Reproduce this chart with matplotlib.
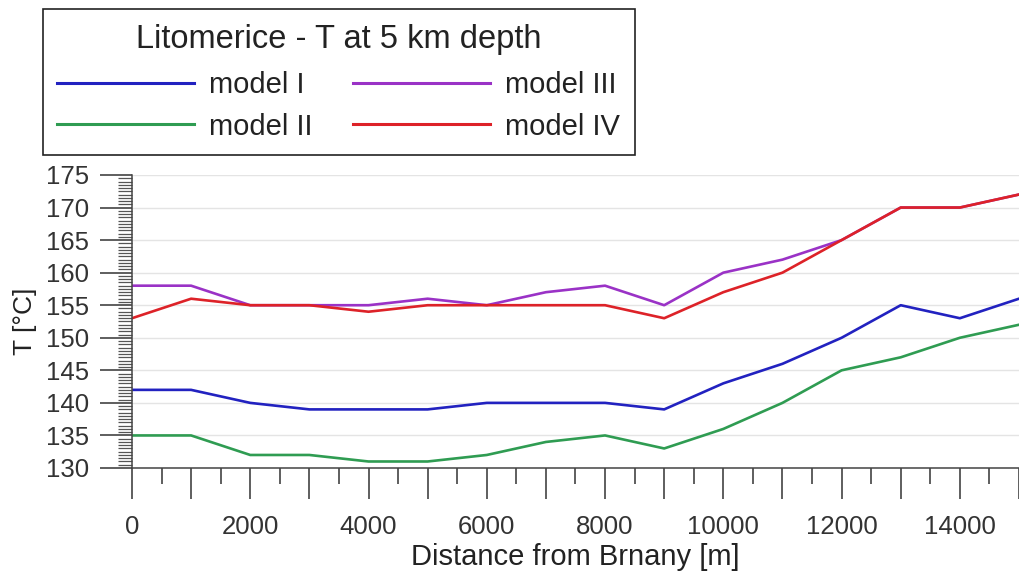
import matplotlib.pyplot as plt
from matplotlib.ticker import MultipleLocator

plt.rcParams.update({
    "font.family": ["Liberation Sans", "DejaVu Sans"],
    "text.color": "#222222",
    "axes.labelcolor": "#222222",
    "xtick.color": "#333333",
    "ytick.color": "#333333",
})

distance_m = [0, 1000, 2000, 3000, 4000, 5000, 6000, 7000, 8000,
              9000, 10000, 11000, 12000, 13000, 14000, 15000]
model_i = [142, 142, 140, 139, 139, 139, 140, 140, 140, 139, 143, 146, 150, 155, 153, 156]
model_ii = [135, 135, 132, 132, 131, 131, 132, 134, 135, 133, 136, 140, 145, 147, 150, 152]
model_iii = [158, 158, 155, 155, 155, 156, 155, 157, 158, 155, 160, 162, 165, 170, 170, 172]
model_iv = [153, 156, 155, 155, 154, 155, 155, 155, 155, 153, 157, 160, 165, 170, 170, 172]

fig = plt.figure(figsize=(10.19, 5.76), dpi=100)
ax = fig.add_axes([0.1295, 0.1875, 0.8705, 0.5087])

l1, = ax.plot(distance_m, model_i, color="#2222c0", lw=1.9, label="model I")
l2, = ax.plot(distance_m, model_ii, color="#2f9c52", lw=1.9, label="model II")
l3, = ax.plot(distance_m, model_iii, color="#9a32c6", lw=1.9, label="model III")
l4, = ax.plot(distance_m, model_iv, color="#dd2228", lw=1.9, label="model IV")

ax.set_xlim(0, 15000)
ax.set_ylim(130, 175)
ax.xaxis.set_minor_locator(MultipleLocator(500))
ax.set_xticks(range(0, 15001, 1000))
ax.set_xticklabels([str(v) if v % 2000 == 0 else "" for v in range(0, 15001, 1000)])
ax.yaxis.set_major_locator(MultipleLocator(5))
ax.yaxis.set_minor_locator(MultipleLocator(0.5))

ax.grid(True, axis="y", color="#e4e4e4", lw=1.0)
ax.set_axisbelow(True)
for side in ("top", "right"):
    ax.spines[side].set_visible(False)
for side in ("left", "bottom"):
    ax.spines[side].set_color("#444444")
    ax.spines[side].set_linewidth(1.1)

ax.tick_params(axis="x", which="major", direction="out", length=22, width=1.1,
               labelsize=18.5, pad=12)
ax.tick_params(axis="x", which="minor", direction="out", length=11.5, width=1.1)
ax.tick_params(axis="y", which="major", direction="out", length=23, width=1.1,
               labelsize=18.5, pad=8)
ax.tick_params(axis="y", which="minor", direction="out", length=10, width=0.9,
               color="#555555")

ax.set_xlabel("Distance from Brnany [m]", fontsize=21, labelpad=3)
ax.set_ylabel("T [°C]", fontsize=19, labelpad=6)

leg = fig.legend(handles=[l1, l2, l3, l4], ncol=2, loc="upper left",
                 bbox_to_anchor=(0.042, 0.984), borderaxespad=0,
                 title="Litomerice - T at 5 km depth",
                 title_fontsize=23.5, fontsize=21, handlelength=4.7,
                 handletextpad=0.5, columnspacing=1.4, labelspacing=0.45,
                 borderpad=0.5, fancybox=False, framealpha=1, edgecolor="#222222")
leg.get_frame().set_linewidth(1.2)
leg._legend_box.sep = 12
for line in leg.get_lines():
    line.set_linewidth(2.2)

fig.savefig("out.png", dpi=100)
